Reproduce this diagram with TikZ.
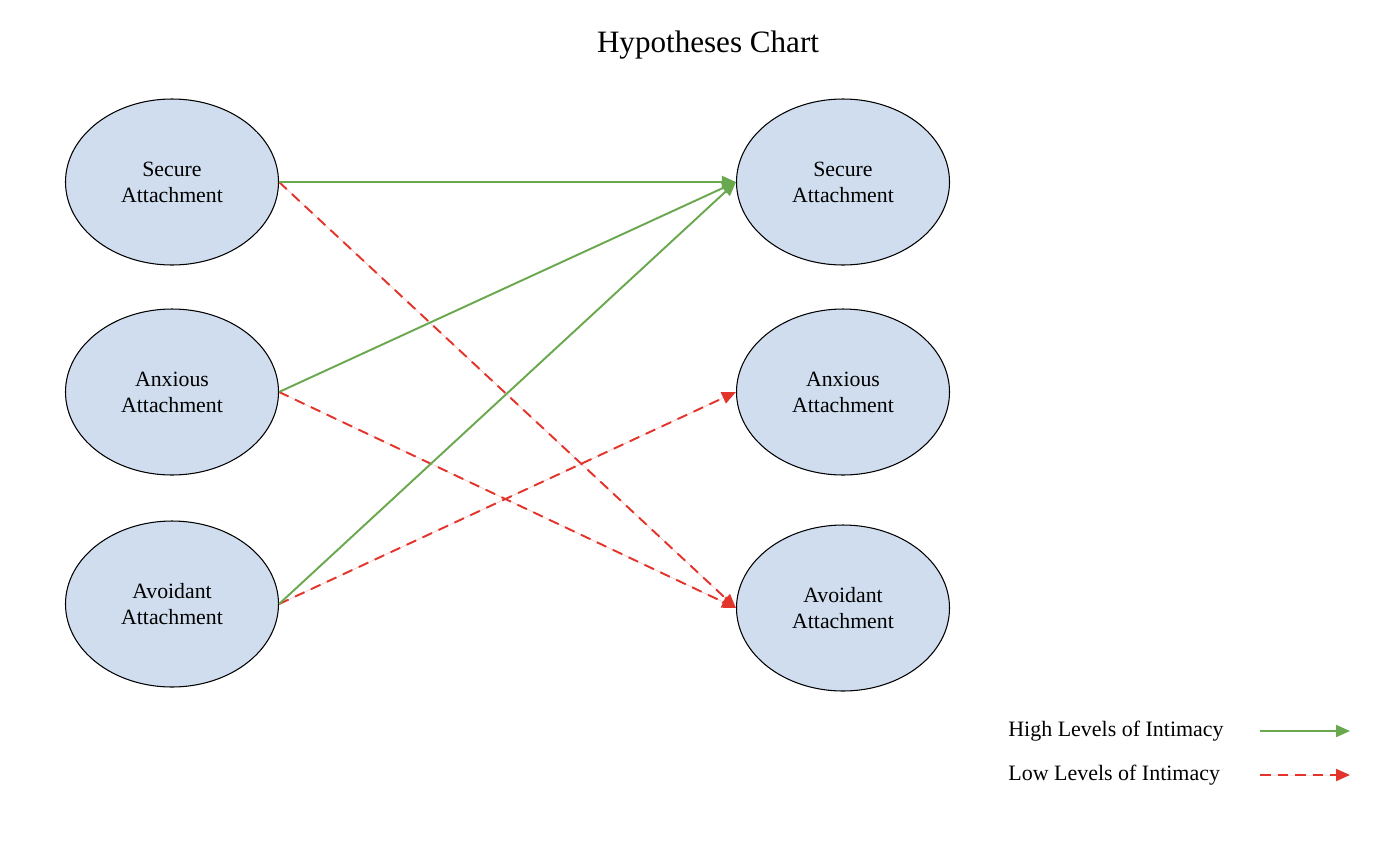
\documentclass[tikz,border=0pt]{standalone}
\usepackage{fontspec}
\setmainfont{Liberation Serif}
\usepackage{xcolor}
\definecolor{attBlue}{HTML}{CFDDEE}
\definecolor{hiGreen}{HTML}{6AA84F}
\definecolor{loRed}{HTML}{E3342C}
\usepackage{tikz}
\usetikzlibrary{shapes.geometric,arrows.meta}

\tikzset{
  attnode/.style={ellipse, draw=black, line width=0.6pt, fill=attBlue,
    minimum width=4.26cm, minimum height=3.32cm, inner sep=0pt,
    align=center, font=\fontsize{12.4}{14.7}\selectfont},
  hiarrow/.style={-{Triangle[length=0.28cm,width=0.24cm]}, draw=hiGreen, fill=hiGreen, line width=1.1pt},
  loarrow/.style={-{Triangle[length=0.28cm,width=0.24cm]}, draw=loRed, fill=loRed, line width=1.1pt,
    dash pattern=on 6pt off 4pt},
  legtext/.style={anchor=west, inner sep=0pt, font=\fontsize{12.5}{15}\selectfont}
}

\begin{document}
\begin{tikzpicture}
  \useasboundingbox (0,0) rectangle (27.72,-16.88);
  % ------- title -------
  \node (title) at (14.16,-0.9) {\fontsize{17.7}{21}\selectfont Hypotheses Chart};
  % ------- left and right columns -------
  \foreach \i/\y/\lab in {sec/-3.64/Secure, anx/-7.84/Anxious, avo/-12.08/Avoidant} {
    \node[attnode] (L\i) at (3.44,\y) {\lab\\Attachment};
  }
  \foreach \i/\y/\lab in {sec/-3.64/Secure, anx/-7.84/Anxious, avo/-12.16/Avoidant} {
    \node[attnode] (R\i) at (16.86,\y) {\lab\\Attachment};
  }
  % ------- hypotheses -------
  \draw[loarrow] (Lsec.east) -- (Ravo.west);
  \draw[loarrow] (Lanx.east) -- (Ravo.west);
  \draw[loarrow] (Lavo.east) -- (Ranx.west);
  \draw[hiarrow] (Lsec.east) -- (Rsec.west);
  \draw[hiarrow] (Lanx.east) -- (Rsec.west);
  \draw[hiarrow] (Lavo.east) -- (Rsec.west);
  % ------- legend -------
  \node[legtext] (hitext) at (20.16,-14.62) {High Levels of Intimacy};
  \node[legtext] (lotext) at (20.16,-15.5) {Low Levels of Intimacy};
  \coordinate (hia) at (25.2,-14.62);
  \coordinate (hib) at (27.0,-14.62);
  \coordinate (loa) at (25.2,-15.5);
  \coordinate (lob) at (27.0,-15.5);
  \draw[hiarrow] (hia) -- (hib);
  \draw[loarrow] (loa) -- (lob);
\end{tikzpicture}
\end{document}
